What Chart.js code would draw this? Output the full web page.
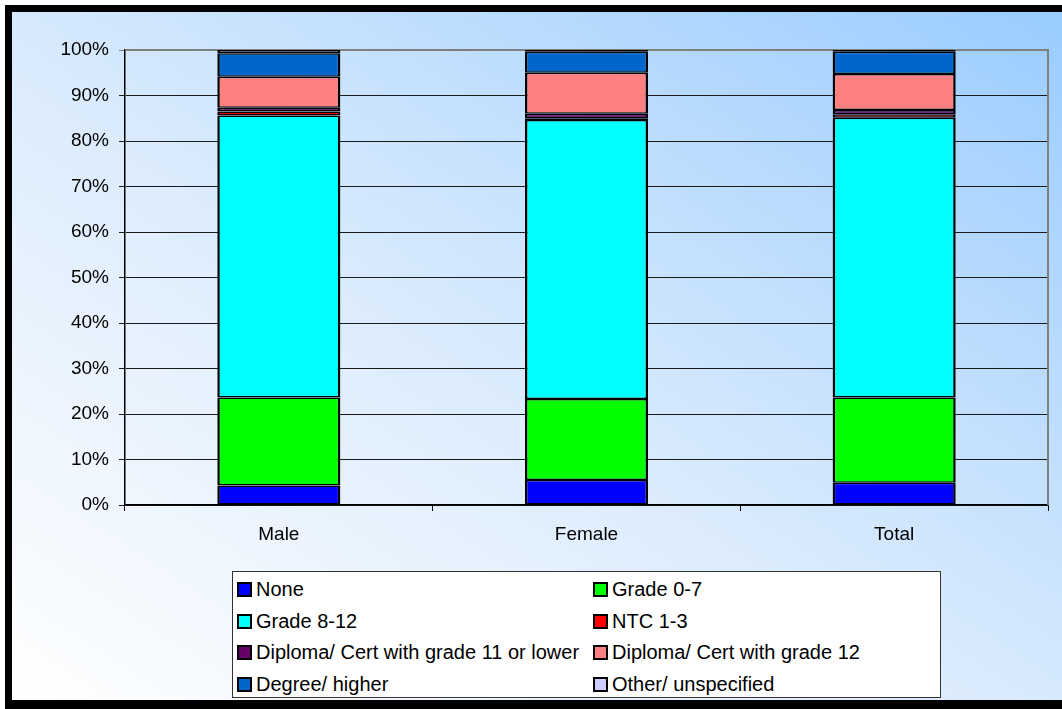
<!DOCTYPE html>
<html>
<head>
<meta charset="utf-8">
<script src="https://cdn.jsdelivr.net/npm/chart.js@4.4.0/dist/chart.umd.min.js"></script>
<style>
  html, body { margin: 0; padding: 0; background: #fff; overflow: hidden; }
  body { width: 1062px; height: 709px; position: relative; font-family: "Liberation Sans", Arial, sans-serif; }
  #frame {
    position: absolute; left: 5px; top: 5px;
    width: 1060px; height: 688px;
    border: 7px solid #000; border-bottom-width: 9px; border-right-width: 0;
    background: linear-gradient(to top right, #ffffff 0%, #dcecfd 45%, #99ccff 100%);
  }
  #chart { position: absolute; left: 0; top: 0; }
  #legend {
    position: absolute; left: 220px; top: 559px;
    width: 707px; height: 125px;
    border: 1px solid #333; background: #fff;
  }
  .item {
    position: absolute; height: 24px; line-height: 24px;
    font-size: 20px; color: #000; white-space: nowrap;
  }
  .item span.sw {
    display: inline-block; width: 11px; height: 11px;
    border: 2px solid #000; margin-right: 4px; vertical-align: -1px;
  }
</style>
</head>
<body>
<div id="frame">
  <canvas id="chart" width="1050" height="688"></canvas>
  <div id="legend"></div>
</div>
<script>
// categories and series (percent of each group)
const groups = ['Male', 'Female', 'Total'];
const seriesNames = [
  'None', 'Grade 0-7', 'Grade 8-12', 'NTC 1-3',
  'Diploma/ Cert with grade 11 or lower', 'Diploma/ Cert with grade 12',
  'Degree/ higher', 'Other/ unspecified'
];
const none      = [4.3, 5.5, 4.9];
const grade0to7 = [19.3, 17.8, 18.7];
const grade8to12 = [62.0, 61.3, 61.5];
const ntc       = [0.9, 0.4, 0.8];
const dipLow    = [0.8, 1.0, 0.9];
const dip12     = [6.8, 9.0, 7.9];
const degree    = [5.2, 4.6, 4.9];
const other     = [0.7, 0.4, 0.4];
const yTicks = [0, 10, 20, 30, 40, 50, 60, 70, 80, 90, 100];

const colors = ['#0000ff', '#00ff00', '#00ffff', '#ff0000', '#660066', '#ff8080', '#0066cc', '#ccccff'];
const values = [none, grade0to7, grade8to12, ntc, dipLow, dip12, degree, other];

const FONT = '"Liberation Sans", Arial, sans-serif';

const datasets = seriesNames.map((name, i) => ({
  label: name,
  data: values[i],
  backgroundColor: colors[i],
  borderColor: '#000',
  borderWidth: { left: 2.5, right: 2.5, top: 1.5, bottom: 1.5 },
  borderSkipped: false,
  barPercentage: 0.4,
  categoryPercentage: 1.0
}));

// gray frame on top/right of the plot area
const plotFrame = {
  id: 'plotFrame',
  beforeDatasetsDraw(chart) {
    const a = chart.chartArea, ctx = chart.ctx;
    ctx.save();
    ctx.strokeStyle = '#808080';
    ctx.lineWidth = 2;
    ctx.beginPath();
    ctx.moveTo(a.left, a.top);
    ctx.lineTo(a.right, a.top);
    ctx.lineTo(a.right, a.bottom);
    ctx.stroke();
    ctx.restore();
  }
};

const chart = new Chart(document.getElementById('chart'), {
  type: 'bar',
  data: { labels: groups, datasets: datasets },
  options: {
    responsive: false,
    animation: false,
    layout: { padding: { left: 0, top: 38, right: 14, bottom: 0 } },
    plugins: { legend: { display: false }, tooltip: { enabled: false } },
    scales: {
      x: {
        stacked: true,
        grid: { drawOnChartArea: false, drawTicks: true, tickLength: 6, color: '#000' },
        border: { color: '#000', width: 1.5 },
        ticks: { color: '#000', font: { family: FONT, size: 19 }, padding: 12 },
        afterFit(scale) { scale.height = 195; }
      },
      y: {
        stacked: true,
        min: 0, max: 100,
        afterBuildTicks(scale) { scale.ticks = yTicks.map(v => ({ value: v })); },
        grid: {
          color: ctx => (ctx.tick && ctx.tick.value === 100) ? '#808080' : '#1a1a1a',
          lineWidth: 1,
          tickLength: 6
        },
        border: { color: '#000', width: 1.5 },
        ticks: {
          color: '#000', font: { family: FONT, size: 19 }, padding: 10,
          callback: v => v + '%'
        },
        afterFit(scale) { scale.width = 113; }
      }
    }
  },
  plugins: [plotFrame]
});

// two-column legend built from the chart's datasets
const legend = document.getElementById('legend');
chart.data.datasets.forEach((ds, i) => {
  const el = document.createElement('div');
  el.className = 'item';
  el.style.left = (i % 2 === 0 ? 4 : 360) + 'px';
  el.style.top = (5 + Math.floor(i / 2) * 31.5) + 'px';
  el.innerHTML = '<span class="sw" style="background:' + ds.backgroundColor + '"></span>' + ds.label;
  legend.appendChild(el);
});
</script>
</body>
</html>
